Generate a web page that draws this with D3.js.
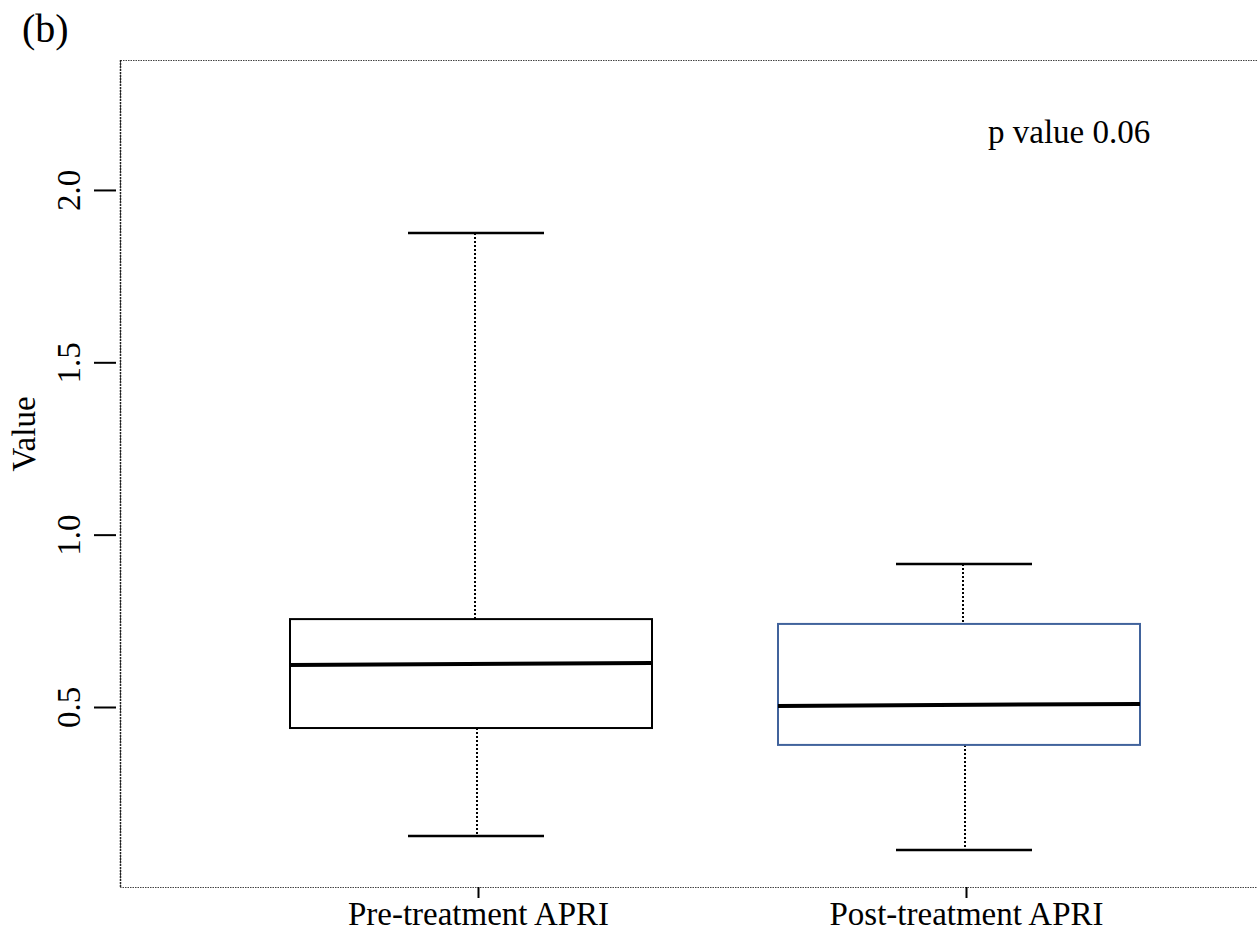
<!DOCTYPE html>
<html>
<head>
<meta charset="utf-8">
<script src="https://cdn.jsdelivr.net/npm/d3@7"></script>
<style>
  body { margin: 0; background: #fff; }
  text { font-family: "Liberation Serif", "Times New Roman", serif; fill: #000; }
</style>
</head>
<body>
<script>
// box summaries
const groups = ['Pre-treatment APRI', 'Post-treatment APRI'];
const lowerWhisker = [0.126, 0.085];
const q1 = [0.439, 0.390];
const median = [0.625, 0.506];
const q3 = [0.755, 0.741];
const upperWhisker = [1.875, 0.915];
const boxColors = ['#000000', '#41639c'];
const yTicks = [0.5, 1.0, 1.5, 2.0];

const W = 1257, H = 932;
const frame = {left: 120, top: 60, right: 1262, bottom: 887};

const svg = d3.select('body').append('svg')
    .attr('width', W).attr('height', H);

const y = d3.scaleLinear()
    .domain([-0.0222, 2.377])
    .range([frame.bottom, frame.top]);

const x = d3.scalePoint()
    .domain(groups)
    .range([478, 966]);

// plot frame (dotted)
svg.append('rect')
    .attr('x', frame.left + 0.5).attr('y', frame.top + 0.5)
    .attr('width', frame.right - frame.left).attr('height', frame.bottom - frame.top)
    .attr('fill', 'none')
    .attr('stroke', '#444')
    .attr('stroke-width', 1)
    .attr('stroke-dasharray', '1.5,1');
svg.append('line')
    .attr('x1', frame.left + 0.5).attr('x2', frame.left + 0.5)
    .attr('y1', frame.top).attr('y2', frame.bottom)
    .attr('stroke', '#222').attr('stroke-width', 1.5)
    .attr('stroke-dasharray', '2,1');

// y axis
const yAxis = svg.append('g')
    .attr('transform', `translate(${frame.left - 4},0)`)
    .call(d3.axisLeft(y).tickValues(yTicks).tickSize(22).tickFormat(d3.format('.1f')));
yAxis.select('.domain').remove();
yAxis.selectAll('.tick line').attr('stroke', '#000').attr('stroke-width', 2);
yAxis.selectAll('.tick text')
    .attr('x', 0).attr('dy', 0)
    .attr('transform', 'translate(-36,0) rotate(-90)')
    .attr('text-anchor', 'middle')
    .style('font-family', '"Liberation Serif", serif')
    .style('font-size', '33px');

// x axis
const xAxis = svg.append('g')
    .attr('transform', `translate(0,${frame.bottom})`)
    .call(d3.axisBottom(x).tickSize(11).tickPadding(4));
xAxis.select('.domain').remove();
xAxis.selectAll('.tick line').attr('stroke', '#000').attr('stroke-width', 2);
xAxis.selectAll('.tick text')
    .style('font-family', '"Liberation Serif", serif')
    .style('font-size', '33px');

// boxes
const boxHalf = 181, boxShift = -7, capHalf = 68;
const data = groups.map((g, i) => ({
    g, lo: lowerWhisker[i], q1: q1[i], med: median[i], q3: q3[i], hi: upperWhisker[i], color: boxColors[i]
}));

const box = svg.selectAll('.box').data(data).enter().append('g').attr('class', 'box');

// whiskers
box.append('line')
    .attr('x1', d => x(d.g) - 3).attr('x2', d => x(d.g) - 3)
    .attr('y1', d => y(d.hi)).attr('y2', d => y(d.q3))
    .attr('stroke', '#000').attr('stroke-width', 2).attr('stroke-dasharray', '2,2');
box.append('line')
    .attr('x1', d => x(d.g) - 1).attr('x2', d => x(d.g) - 1)
    .attr('y1', d => y(d.q1)).attr('y2', d => y(d.lo))
    .attr('stroke', '#000').attr('stroke-width', 2).attr('stroke-dasharray', '2,2');
// caps
box.selectAll('.cap').data(d => [d.hi, d.lo].map(v => ({v, g: d.g}))).enter().append('line')
    .attr('x1', d => x(d.g) - 2 - capHalf).attr('x2', d => x(d.g) - 2 + capHalf)
    .attr('y1', d => y(d.v)).attr('y2', d => y(d.v))
    .attr('stroke', '#000').attr('stroke-width', 2.5);
// box
box.append('rect')
    .attr('x', d => x(d.g) + boxShift - boxHalf)
    .attr('y', d => y(d.q3))
    .attr('width', boxHalf * 2)
    .attr('height', d => y(d.q1) - y(d.q3))
    .attr('fill', '#fff')
    .attr('stroke', d => d.color)
    .attr('stroke-width', 2);
// median
box.append('line')
    .attr('x1', d => x(d.g) + boxShift - boxHalf).attr('x2', d => x(d.g) + boxShift + boxHalf)
    .attr('y1', d => y(d.med) + 1).attr('y2', d => y(d.med) - 1)
    .attr('stroke', '#000').attr('stroke-width', 4);

// labels
svg.append('text')
    .attr('x', 22).attr('y', 42)
    .style('font-size', '40px')
    .text('(b)');

svg.append('text')
    .attr('transform', 'translate(35,434) rotate(-90)')
    .attr('text-anchor', 'middle')
    .style('font-size', '33px')
    .text('Value');

svg.append('text')
    .attr('x', 988).attr('y', 143)
    .style('font-size', '33px')
    .text('p value 0.06');
</script>
</body>
</html>
